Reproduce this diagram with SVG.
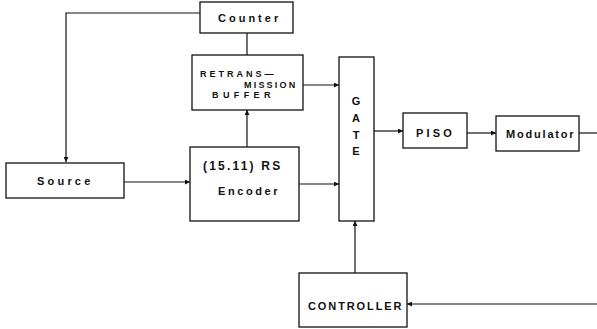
<svg xmlns="http://www.w3.org/2000/svg" width="597" height="329" viewBox="0 0 597 329">
<style>
.box{fill:#fff;stroke:#111;stroke-width:1.3}
.ln{fill:none;stroke:#111;stroke-width:1.2}
text{font-family:"Liberation Sans",Arial,sans-serif;font-weight:bold;fill:#111}
.t{font-size:11px;letter-spacing:2px}
.s{font-size:9px;letter-spacing:3px}
</style>
<defs>
<marker id="ah" viewBox="0 0 6 6" refX="6" refY="3" markerWidth="5" markerHeight="5" orient="auto" markerUnits="userSpaceOnUse">
<path d="M0,0 L6,3 L0,6 z" fill="#111"/>
</marker>
</defs>
<rect width="597" height="329" fill="#fff"/>
<g id="connectors">
<path class="ln" d="M200,13 H66 V162" marker-end="url(#ah)"/>
<path class="ln" d="M247,33 V55"/>
<path class="ln" d="M247,147 V110" marker-end="url(#ah)"/>
<path class="ln" d="M124,182 H190" marker-end="url(#ah)"/>
<path class="ln" d="M303,85 H339" marker-end="url(#ah)"/>
<path class="ln" d="M299,184 H339" marker-end="url(#ah)"/>
<path class="ln" d="M374,131 H403" marker-end="url(#ah)"/>
<path class="ln" d="M467,133 H496" marker-end="url(#ah)"/>
<path class="ln" d="M579,133 H597"/>
<path class="ln" d="M355,273 V221" marker-end="url(#ah)"/>
<path class="ln" d="M597,304 H407" marker-end="url(#ah)"/>
</g>
<g id="counter">
<rect class="box" x="200" y="2" width="93" height="31"/>
<text class="t" x="218" y="22" style="letter-spacing:3px">Counter</text>
</g>
<g id="retrans">
<rect class="box" x="192" y="55" width="111" height="55"/>
<text class="s" x="200" y="77">RETRANS—</text>
<text class="s" x="244" y="87.5" style="letter-spacing:2.2px">MISSION</text>
<text class="s" x="212" y="98" style="letter-spacing:4.4px">BUFFER</text>
</g>
<g id="encoder">
<rect class="box" x="190" y="147" width="109" height="74"/>
<text class="t" x="203" y="170" style="font-size:12px;letter-spacing:2.2px">(15.11) RS</text>
<text class="t" x="218" y="195" style="letter-spacing:2.6px">Encoder</text>
</g>
<g id="source">
<rect class="box" x="6" y="163" width="118" height="35"/>
<text class="t" x="37" y="185" style="letter-spacing:3.2px">Source</text>
</g>
<g id="gate">
<rect class="box" x="339" y="57" width="35" height="164"/>
<text class="t" x="356" y="105" text-anchor="middle" style="letter-spacing:0">G</text>
<text class="t" x="356" y="122" text-anchor="middle" style="letter-spacing:0">A</text>
<text class="t" x="356" y="139" text-anchor="middle" style="letter-spacing:0">T</text>
<text class="t" x="356" y="155" text-anchor="middle" style="letter-spacing:0">E</text>
</g>
<g id="piso">
<rect class="box" x="403" y="113" width="64" height="35"/>
<text class="t" x="416" y="137" style="letter-spacing:3.2px">PISO</text>
</g>
<g id="modulator">
<rect class="box" x="496" y="116" width="83" height="35"/>
<text class="t" x="506" y="138" style="letter-spacing:1.8px">Modulator</text>
</g>
<g id="controller">
<rect class="box" x="299" y="273" width="108" height="54"/>
<text class="t" x="308" y="310" style="letter-spacing:1.9px">CONTROLLER</text>
</g>
</svg>
